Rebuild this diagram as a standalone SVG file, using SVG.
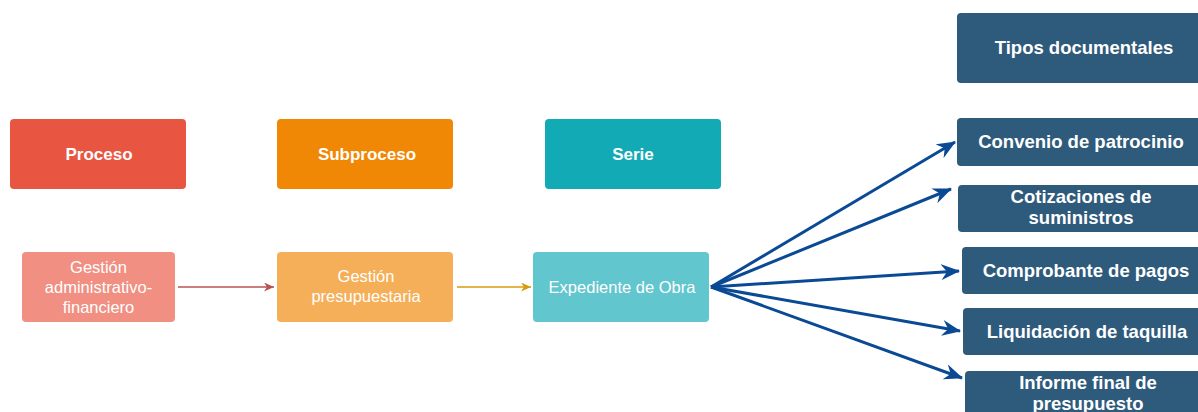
<svg xmlns="http://www.w3.org/2000/svg" width="1198" height="412" viewBox="0 0 1198 412">
<style>
.t{font-family:"Liberation Sans",Arial,sans-serif;fill:#ffffff;text-anchor:middle;dominant-baseline:central}
.h{font-size:17px;font-weight:bold}
.s{font-size:16.5px}
.d{font-size:18.5px;font-weight:bold}
.dk{fill:#2e5a7b}
.blue{stroke:#0a4a94;stroke-width:3;fill:none;marker-end:url(#ab)}
</style>
<defs>
<marker id="ab" markerUnits="userSpaceOnUse" markerWidth="19" markerHeight="16" viewBox="0 0 19 16" refX="18" refY="8" orient="auto">
<path d="M0,0 L19,8 L0,16 L6,8 z" fill="#0a4a94"/>
</marker>
<marker id="ar" markerUnits="userSpaceOnUse" markerWidth="10" markerHeight="9" viewBox="0 0 10 9" refX="10" refY="4.5" orient="auto">
<path d="M0,0 L10,4.5 L0,9 L3,4.5 z" fill="#b85450"/>
</marker>
<marker id="ao" markerUnits="userSpaceOnUse" markerWidth="10" markerHeight="9" viewBox="0 0 10 9" refX="10" refY="4.5" orient="auto">
<path d="M0,0 L10,4.5 L0,9 L3,4.5 z" fill="#d89b0c"/>
</marker>
</defs>
<rect width="1198" height="412" fill="#ffffff"/>

<g id="proceso"><rect x="10" y="119" width="176" height="70" rx="4" fill="#e85642"/><text class="t h" x="99" y="154">Proceso</text></g>
<g id="subproceso"><rect x="277" y="119" width="176" height="70" rx="4" fill="#f08705"/><text class="t h" x="367" y="154">Subproceso</text></g>
<g id="serie"><rect x="545" y="119" width="176" height="70" rx="4" fill="#12aab5"/><text class="t h" x="633" y="154">Serie</text></g>

<g id="gestion-admin"><rect x="22" y="252" width="153" height="70" rx="4" fill="#f08f82"/>
<text class="t s" x="98.5" y="267">Gestión</text><text class="t s" x="98.5" y="287">administrativo-</text><text class="t s" x="98.5" y="307">financiero</text></g>
<g id="gestion-presup"><rect x="277" y="252" width="176" height="70" rx="4" fill="#f5af58"/>
<text class="t s" x="366" y="276">Gestión</text><text class="t s" x="366" y="296">presupuestaria</text></g>
<g id="expediente"><rect x="533" y="252" width="176" height="70" rx="4" fill="#62c6ce"/>
<text class="t s" x="622" y="287">Expediente de Obra</text></g>

<g id="tipos"><rect class="dk" x="957" y="13" width="254" height="70" rx="4"/><text class="t d" x="1084" y="47">Tipos documentales</text></g>
<g id="convenio"><rect class="dk" x="957" y="118" width="248" height="48" rx="4"/><text class="t d" x="1081" y="141">Convenio de patrocinio</text></g>
<g id="cotizaciones"><rect class="dk" x="958" y="185" width="248" height="47" rx="4"/><text class="t d" x="1081" y="196">Cotizaciones de</text><text class="t d" x="1081" y="217">suministros</text></g>
<g id="comprobante"><rect class="dk" x="962" y="247" width="248" height="47" rx="4"/><text class="t d" x="1086" y="270">Comprobante de pagos</text></g>
<g id="liquidacion"><rect class="dk" x="963" y="308" width="248" height="47" rx="4"/><text class="t d" x="1087" y="331">Liquidación de taquilla</text></g>
<g id="informe"><rect class="dk" x="965" y="371" width="248" height="50" rx="4"/><text class="t d" x="1088" y="382">Informe final de</text><text class="t d" x="1088" y="403">presupuesto</text></g>

<g id="connectors">
<line x1="178" y1="287" x2="274" y2="287" stroke="#b85450" stroke-width="1.5" marker-end="url(#ar)"/>
<line x1="457" y1="287" x2="531" y2="287" stroke="#d89b0c" stroke-width="1.5" marker-end="url(#ao)"/>
<line class="blue" x1="711" y1="287" x2="955" y2="142"/>
<line class="blue" x1="711" y1="287" x2="951" y2="189"/>
<line class="blue" x1="711" y1="287" x2="959" y2="271"/>
<line class="blue" x1="711" y1="287" x2="960" y2="331"/>
<line class="blue" x1="711" y1="287" x2="962" y2="378"/>
</g>
</svg>
